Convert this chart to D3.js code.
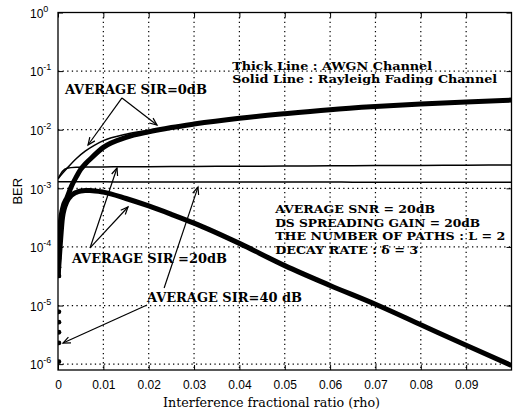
<!DOCTYPE html>
<html>
<head>
<meta charset="utf-8">
<script src="https://cdn.jsdelivr.net/npm/d3@7"></script>
<style>
  body { margin: 0; background: #fff; }
  svg { display: block; }
  .grid line { stroke: #000; stroke-width: 1.2; stroke-dasharray: 1.3, 3.3; }
  .axis text { font-family: "Liberation Sans", Arial, sans-serif; font-size: 12px; fill: #000; }
  .axis line { stroke: #000; stroke-width: 1; }
  .note { font-family: "DejaVu Serif", serif; font-weight: bold; font-size: 12.5px; fill: #000; }
  .note.small { font-size: 11.8px; }
</style>
</head>
<body>
<svg id="chart"></svg>
<script>
/* global d3 */

// interference fractional ratio (rho) for the AWGN curves
var awgnRho = [0, 0.0005, 0.001, 0.002, 0.003, 0.004, 0.005, 0.006, 0.007, 0.01, 0.015,
  0.02, 0.025, 0.03, 0.04, 0.05, 0.06, 0.07, 0.08, 0.09, 0.1];
// thick line, AWGN, average SIR = 0dB
var awgn0Ber = [3e-5, 2.5e-4, 4.5e-4, 7e-4, 1.1e-3, 1.55e-3, 2.1e-3, 2.6e-3, 3.1e-3, 5.0e-3, 7.4e-3,
  9.2e-3, 1.09e-2, 1.25e-2, 1.57e-2, 1.88e-2, 2.2e-2, 2.48e-2, 2.74e-2, 2.98e-2, 3.2e-2];
// thick line, AWGN, average SIR = 20dB
var awgn20Ber = [3e-5, 1.1e-4, 3.2e-4, 6.0e-4, 7.6e-4, 8.5e-4, 9.0e-4, 9.2e-4, 9.2e-4, 8.6e-4, 6.7e-4,
  5.0e-4, 3.6e-4, 2.55e-4, 1.15e-4, 4.8e-5, 2.2e-5, 1.05e-5, 4.7e-6, 2.1e-6, 9.5e-7];
// AWGN, average SIR = 40dB : only the points close to rho = 0 fall inside the plot
var awgn40Rho = [0.0002, 0.0002, 0.0002, 0.0002, 0.0002, 0.0002, 0.0002, 0.0002, 0.0002, 0.0002, 0.0002, 0.0002];
var awgn40Ber = [2.2e-4, 1.6e-4, 1.1e-4, 8e-5, 6.3e-5, 4.5e-5, 3.2e-5, 7.8e-6, 5.2e-6, 3.5e-6, 2.3e-6, 1.1e-6];

// rho for the Rayleigh fading curves
var rayRho = [0, 0.001, 0.002, 0.004, 0.006, 0.008, 0.01, 0.015, 0.02, 0.03, 0.04, 0.05,
  0.06, 0.07, 0.08, 0.09, 0.1];
var ray0Ber = [1.45e-3, 1.8e-3, 2.2e-3, 3.2e-3, 4.3e-3, 5.4e-3, 6.5e-3, 8.4e-3, 9.8e-3, 1.28e-2, 1.6e-2, 1.91e-2,
  2.22e-2, 2.5e-2, 2.76e-2, 3.0e-2, 3.22e-2];
var ray20Ber = [1.45e-3, 1.95e-3, 2.2e-3, 2.28e-3, 2.3e-3, 2.31e-3, 2.32e-3, 2.33e-3, 2.34e-3, 2.36e-3, 2.38e-3, 2.4e-3,
  2.42e-3, 2.44e-3, 2.46e-3, 2.48e-3, 2.5e-3];
var ray40Ber = [1.3e-3, 1.29e-3, 1.29e-3, 1.29e-3, 1.29e-3, 1.29e-3, 1.29e-3, 1.28e-3, 1.28e-3, 1.28e-3, 1.28e-3, 1.28e-3,
  1.28e-3, 1.27e-3, 1.27e-3, 1.27e-3, 1.27e-3];

var xTicks = [0, 0.01, 0.02, 0.03, 0.04, 0.05, 0.06, 0.07, 0.08, 0.09];
var yTicks = [1e-6, 1e-5, 1e-4, 1e-3, 1e-2, 1e-1, 1];

var legendLines = ["Thick Line : AWGN Channel", "Solid Line : Rayleigh Fading Channel"];
var paramLines = ["AVERAGE SNR = 20dB", "DS SPREADING GAIN = 20dB", "THE NUMBER OF PATHS : L = 2", "DECAY RATE : \u03b4 = 3"];

var W = 517, H = 416,
  margin = { top: 12.5, right: 5.5, bottom: 46, left: 58 };

var svg = d3.select("#chart").attr("width", W).attr("height", H);

var x = d3.scaleLinear().domain([0, 0.1]).range([margin.left, W - margin.right]);
var y = d3.scaleLog().domain([Math.pow(10, -6.1), 1]).range([H - margin.bottom, margin.top]);

var x0 = x.range()[0], x1 = x.range()[1], yb = y.range()[0], yt = y.range()[1];

svg.append("defs").append("clipPath").attr("id", "plot")
  .append("rect").attr("x", x0).attr("y", yt).attr("width", x1 - x0).attr("height", yb - yt);

// dotted grid
var grid = svg.append("g").attr("class", "grid");
grid.selectAll(".gx").data(xTicks.slice(1)).enter().append("line")
  .attr("x1", function (d) { return x(d); }).attr("x2", function (d) { return x(d); })
  .attr("y1", yt).attr("y2", yb);
grid.selectAll(".gy").data(yTicks.slice(0, -1)).enter().append("line")
  .attr("y1", function (d) { return y(d); }).attr("y2", function (d) { return y(d); })
  .attr("x1", x0).attr("x2", x1);

// axes, ticks pointing inside like matlab
var fmtX = function (d) { return d === 0 ? "0" : d3.format(".2f")(d); };
svg.append("g").attr("class", "axis").attr("transform", "translate(0," + yb + ")")
  .call(d3.axisBottom(x).tickValues(xTicks).tickSize(-5).tickPadding(10.5).tickFormat(fmtX));
svg.append("g").attr("class", "axis").attr("transform", "translate(0," + yt + ")")
  .call(d3.axisTop(x).tickValues(xTicks).tickSize(-5).tickFormat(""));
var gyl = svg.append("g").attr("class", "axis").attr("transform", "translate(" + x0 + ",0)")
  .call(d3.axisLeft(y).tickValues(yTicks).tickSize(-5).tickFormat(""));
svg.append("g").attr("class", "axis").attr("transform", "translate(" + x1 + ",0)")
  .call(d3.axisRight(y).tickValues(yTicks).tickSize(-5).tickFormat(""));
svg.selectAll(".axis .domain").remove();

// 10^n labels
gyl.selectAll(".tick text")
  .attr("x", 30 - x0).attr("dy", 4.8).attr("text-anchor", "start")
  .each(function (d) {
    var t = d3.select(this);
    t.append("tspan").text("10");
    t.append("tspan").attr("dy", -6).attr("font-size", 9).text(Math.round(Math.log10(d)));
  });

// frame
svg.append("rect").attr("x", x0).attr("y", yt).attr("width", x1 - x0).attr("height", yb - yt)
  .attr("fill", "none").attr("stroke", "#000").attr("stroke-width", 1.3);

// axis titles
svg.append("text")
  .attr("transform", "translate(22," + ((yt + yb) / 2) + ") rotate(-90)")
  .attr("text-anchor", "middle")
  .style("font-family", "Liberation Sans, Arial, sans-serif").style("font-size", "13px")
  .text("BER");
svg.append("text")
  .attr("x", 271.5).attr("y", 406.5).attr("text-anchor", "middle")
  .style("font-family", "DejaVu Serif, serif").style("font-size", "12.5px")
  .attr("textLength", 217).attr("lengthAdjust", "spacingAndGlyphs")
  .text("Interference fractional ratio (rho)");

// curves
var line = d3.line()
  .x(function (d) { return x(d[0]); })
  .y(function (d) { return y(d[1]); })
  .curve(d3.curveMonotoneX);
var curves = svg.append("g").attr("clip-path", "url(#plot)");

[ray0Ber, ray20Ber, ray40Ber].forEach(function (s) {
  curves.append("path")
    .datum(d3.zip(rayRho, s))
    .attr("d", line)
    .attr("fill", "none").attr("stroke", "#000").attr("stroke-width", 1.5);
});
[awgn0Ber, awgn20Ber].forEach(function (s) {
  curves.append("path")
    .datum(d3.zip(awgnRho, s))
    .attr("d", line)
    .attr("fill", "none").attr("stroke", "#000").attr("stroke-width", 5)
    .attr("stroke-linejoin", "round");
});
curves.selectAll(".dot40").data(d3.zip(awgn40Rho, awgn40Ber)).enter().append("circle")
  .attr("cx", function (d) { return x(d[0]); })
  .attr("cy", function (d) { return y(d[1]); })
  .attr("r", 2.4).attr("fill", "#000");

// annotations, placed in data units
function note(r, b, txt, len) {
  return svg.append("text").attr("class", "note")
    .attr("x", x(r)).attr("y", y(b))
    .attr("textLength", len).attr("lengthAdjust", "spacingAndGlyphs")
    .text(txt);
}
function arrow(a, b) {
  var ax = x(a[0]), ay = y(a[1]), bx = x(b[0]), by = y(b[1]);
  var ang = Math.atan2(by - ay, bx - ax), L = 8, s = 0.4;
  var g = svg.append("g").attr("stroke", "#000").attr("stroke-width", 1.2).attr("fill", "none");
  g.append("line").attr("x1", ax).attr("y1", ay).attr("x2", bx).attr("y2", by);
  g.append("path").attr("d",
    "M" + (bx - L * Math.cos(ang - s)) + "," + (by - L * Math.sin(ang - s)) +
    "L" + bx + "," + by +
    "L" + (bx - L * Math.cos(ang + s)) + "," + (by - L * Math.sin(ang + s)));
}

note(0.00154, 0.0407, "AVERAGE SIR=0dB", 142);
arrow([0.01411, 0.0348], [0.02183, 0.0120]);
arrow([0.01411, 0.0348], [0.00662, 5.48e-3]);

var legW = [200, 265];
legendLines.forEach(function (t, i) {
  svg.append("text").attr("class", "note small")
    .attr("x", x(0.0384)).attr("y", y(0.1045) + i * 13.5)
    .attr("textLength", legW[i]).attr("lengthAdjust", "spacingAndGlyphs")
    .text(t);
});

var parW = [160, 205, 230, 143];
paramLines.forEach(function (t, i) {
  svg.append("text").attr("class", "note small")
    .attr("x", x(0.0479)).attr("y", y(3.79e-4) + i * 13.7)
    .attr("textLength", parW[i]).attr("lengthAdjust", "spacingAndGlyphs")
    .text(t);
});

note(0.00309, 5.32e-5, "AVERAGE SIR =20dB", 155);
arrow([0.00706, 9.6e-5], [0.01301, 2.22e-3]);
arrow([0.00706, 9.6e-5], [0.01544, 4.8e-4]);

note(0.01963, 1.15e-5, "AVERAGE SIR=40 dB", 155);
arrow([0.01963, 1.02e-5], [0.0011, 2.29e-6]);
arrow([0.0234, 1.99e-5], [0.03087, 1.05e-3]);
</script>
</body>
</html>
